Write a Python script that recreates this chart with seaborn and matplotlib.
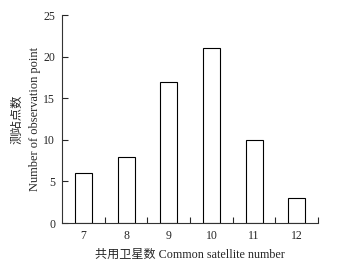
import matplotlib
matplotlib.use("Agg")
import matplotlib.pyplot as plt
import seaborn as sns
import numpy as np
import pandas as pd

# Data
satellites = [7, 8, 9, 10, 11, 12]
counts = [6, 8, 17, 21, 10, 3]

df = pd.DataFrame({"sat": satellites, "count": counts})

sns.set_style("ticks")
plt.rcParams["font.family"] = ["Liberation Serif", "Noto Sans CJK SC"]

fig = plt.figure(figsize=(3.55, 2.64), dpi=100)
ax = fig.add_axes([0.175, 0.155, 0.721, 0.788])

sns.barplot(data=df, x="sat", y="count", native_scale=True, width=0.4,
            fill=False, color="black", linewidth=0.8, ax=ax)
for p in ax.patches:
    p.set_edgecolor("black")
    p.set_facecolor("white")

ax.set_xlim(6.5, 12.5)
ax.set_ylim(0, 25)
ax.set_yticks(np.arange(0, 26, 5))
ax.set_xticks(satellites)
ax.set_xticks(np.arange(7.5, 12.6, 1), minor=True)
ax.tick_params(axis="x", which="major", length=0, labelsize=8.5, pad=5)
ax.tick_params(axis="x", which="minor", direction="in", length=4, width=0.8)
ax.tick_params(axis="y", direction="in", length=4, width=0.8, labelsize=8.5, pad=5)
sns.despine(ax=ax)
for s in ["left", "bottom"]:
    ax.spines[s].set_linewidth(0.8)
    ax.spines[s].set_color("#333333")

ax.set_xlabel("共用卫星数 Common satellite number", fontsize=8.7, labelpad=5)
ax.set_ylabel("测站点数\nNumber of observation point", fontsize=8.9, labelpad=1.5,
              linespacing=1.6)

plt.savefig("out.png", dpi=100)
